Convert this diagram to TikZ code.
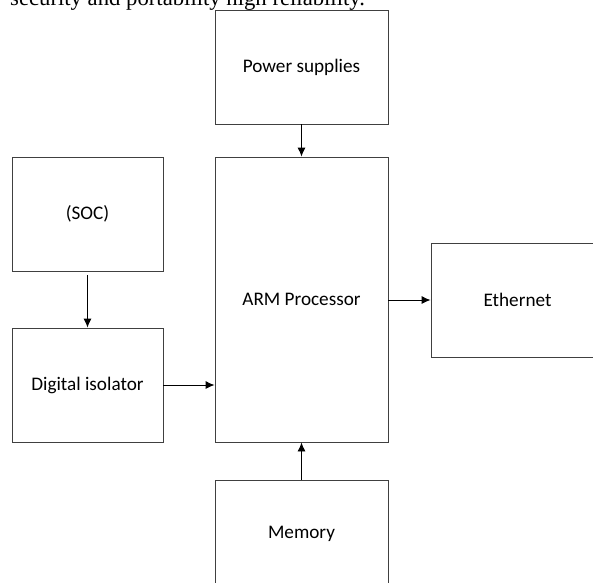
\documentclass[tikz,border=0pt]{standalone}
\usepackage{fontspec}
\setmainfont{Carlito}
\newfontfamily\bodyfont{Liberation Serif}
\usepackage{tikz}
\usetikzlibrary{arrows.meta,positioning,calc}

\begin{document}
\begin{tikzpicture}[x=1pt, y=-1pt,
    block/.style={draw=black!75, line width=0.9pt, minimum width=173pt, minimum height=114pt,
        inner sep=0pt, font=\fontsize{19.2}{23}\selectfont},
    link/.style={-{Latex[length=9pt,width=8pt]}, line width=0.9pt}]
    \useasboundingbox (0,0) rectangle (593,582);
    \clip (0,0) rectangle (593,582);
    % Text of the page above
    \node[anchor=base west, inner sep=0pt, font=\bodyfont\fontsize{22.7}{26}\selectfont] (txt) at (10,5)
        {security and portability high reliability.};

    % Blocks
    \node[block] (power) at (301.5, 67) {Power supplies};
    \node[block, minimum height=285pt] (arm) at (301.5, 299.5) {ARM Processor};
    \node[block, minimum height=108pt] (mem) at (301.5, 534) {Memory};
    \node[block, minimum width=151pt] (soc) at (87.5, 214) {(SOC)};
    \node[block, minimum width=151pt] (iso) at (87.5, 385) {Digital isolator};
    \node[block] (eth) at (517.5, 300) {Ethernet};

    % Arrows
    \draw[link] (power) -- (arm);
    \draw[link] ([yshift=-4pt]soc.south) -- (iso);
    \draw[link] (iso.east) -- (iso.east -| arm.west);
    \draw[link] (arm.east |- eth.west) -- (eth.west);
    \draw[link] (mem) -- (arm);
\end{tikzpicture}
\end{document}
